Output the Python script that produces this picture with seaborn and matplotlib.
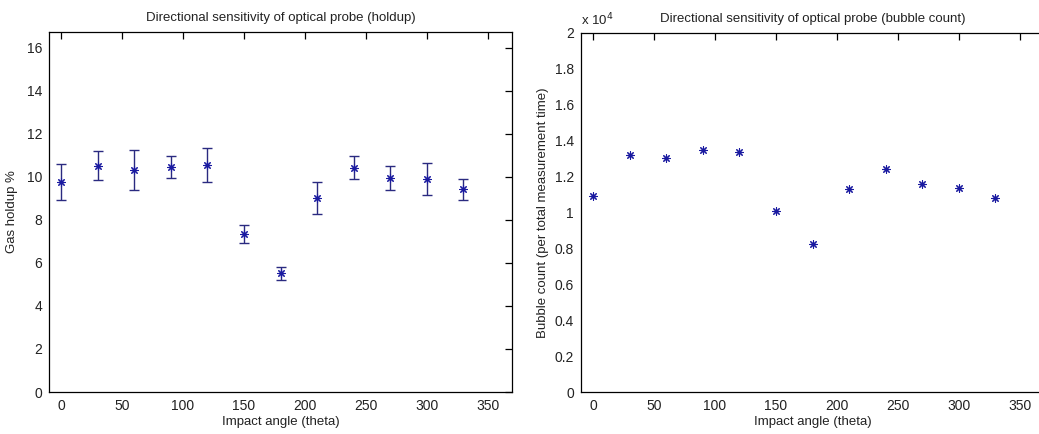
import matplotlib
matplotlib.use("Agg")
import matplotlib.pyplot as plt
import seaborn as sns
import numpy as np
import pandas as pd
from matplotlib.ticker import FuncFormatter

# ---- data ----
angles = [0, 30, 60, 90, 120, 150, 180, 210, 240, 270, 300, 330]
holdup = [9.77, 10.51, 10.29, 10.45, 10.54, 7.35, 5.52, 9.01, 10.40, 9.95, 9.89, 9.41]
holdup_low = [8.90, 9.85, 9.36, 9.95, 9.77, 6.91, 5.18, 8.27, 9.89, 9.40, 9.16, 8.90]
holdup_high = [10.60, 11.19, 11.26, 10.95, 11.33, 7.75, 5.80, 9.75, 10.95, 10.51, 10.65, 9.91]
bubbles = [10930, 13200, 13050, 13460, 13380, 10070, 8270, 11310, 12430, 11570, 11360, 10780]

x_ticks = [0, 50, 100, 150, 200, 250, 300, 350]
holdup_ticks = [0, 2, 4, 6, 8, 10, 12, 14, 16]
bubble_ticks = [0, 2000, 4000, 6000, 8000, 10000, 12000, 14000, 16000, 18000, 20000]

df = pd.DataFrame({"angle": angles, "holdup": holdup, "bubbles": bubbles})

sns.set_theme(style="white")
plt.rcParams['font.family'] = ['Liberation Sans', 'DejaVu Sans']
plt.rcParams['axes.linewidth'] = 0.9

W, H = 1039, 434
fig = plt.figure(figsize=(W / 100, H / 100), dpi=100)
fig.patch.set_facecolor("white")

ax1 = fig.add_axes([49 / W, 42 / H, 463 / W, 360 / H])
ax2 = fig.add_axes([581 / W, 42 / H, 463 / W, 359 / H])

blue = "#1a1aa0"
bar_col = "#2a2a80"
star = (8, 2, 0)

# left panel: holdup with error bars
yerr = [np.array(holdup) - np.array(holdup_low), np.array(holdup_high) - np.array(holdup)]
ax1.errorbar(angles, holdup, yerr=yerr, fmt="none", ecolor=bar_col, elinewidth=1.0,
             capsize=3.3, capthick=1.0, zorder=2)
sns.scatterplot(data=df, x="angle", y="holdup", ax=ax1, marker=star, s=30,
                color=blue, linewidth=0.8, zorder=3, legend=False)

# right panel: bubble counts
sns.scatterplot(data=df, x="angle", y="bubbles", ax=ax2, marker=star, s=30,
                color=blue, linewidth=0.8, zorder=3, legend=False)

for ax in (ax1, ax2):
    ax.set_xlim(-10, 370)
    ax.set_xticks(x_ticks)
    ax.set_xticklabels([str(t) for t in x_ticks])
    ax.tick_params(direction="in", length=5, width=0.9, top=True, right=True,
                   labelsize=10, colors="black", pad=5, labelcolor="#222222")
    for s in ax.spines.values():
        s.set_visible(True)
        s.set_color("black")
    ax.set_xlabel("Impact angle (theta)", fontsize=9.5, labelpad=2, color="#222222")
    ax.grid(False)

ax2.tick_params(axis="y", right=False)

ax1.set_ylim(0, 16.72)
ax1.set_yticks(holdup_ticks)
ax1.set_yticklabels([str(t) for t in holdup_ticks])
ax1.set_ylabel("Gas holdup %", fontsize=9.5, labelpad=6, color="#222222")
ax1.set_title("Directional sensitivity of optical probe (holdup)", fontsize=9.5,
              pad=8, color="#222222")

ax2.set_ylim(0, 20000)
ax2.set_yticks(bubble_ticks)
ax2.yaxis.set_major_formatter(FuncFormatter(lambda v, p: "%g" % (v / 1e4)))
ax2.set_ylabel("Bubble count (per total measurement time)", fontsize=9.5, labelpad=4,
               color="#222222")
ax2.set_title("Directional sensitivity of optical probe (bubble count)", fontsize=9.5,
              pad=8, color="#222222")
ax2.text(0.0, 1.012, r"x 10$^4$", transform=ax2.transAxes, fontsize=9.5,
         ha="left", va="bottom", color="#222222")

fig.savefig("out.png", dpi=100, facecolor="white")
